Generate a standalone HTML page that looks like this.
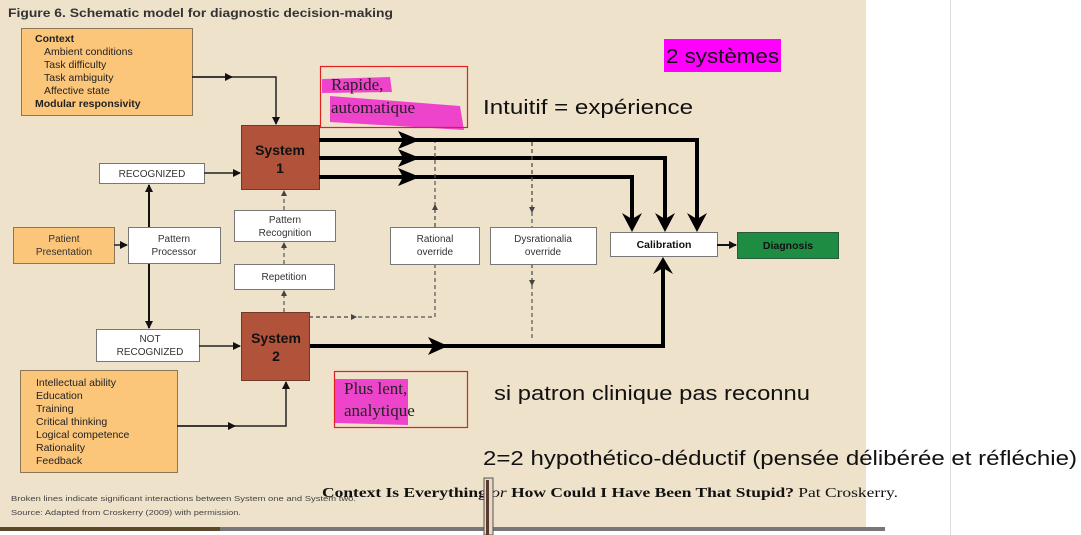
<!DOCTYPE html>
<html><head><meta charset="utf-8"><style>
html,body{margin:0;padding:0;background:#fff;width:1081px;height:535px;overflow:hidden}
svg{display:block}
.s{font-family:"Liberation Sans",sans-serif}
</style></head><body>
<svg width="1081" height="535" viewBox="0 0 1081 535" xmlns="http://www.w3.org/2000/svg" class="s">
<defs>
<marker id="a" markerWidth="8" markerHeight="8" refX="7" refY="4" orient="auto" markerUnits="userSpaceOnUse"><path d="M0,0 L8,4 L0,8 Z" fill="#111"/></marker>
<marker id="ad" markerWidth="6" markerHeight="6" refX="5" refY="3" orient="auto" markerUnits="userSpaceOnUse"><path d="M0,0 L6,3 L0,6 Z" fill="#444"/></marker>
</defs>
<rect x="0" y="0" width="866" height="528" fill="#efe2cb"/>
<rect x="0" y="527" width="885" height="4" fill="#777"/>
<rect x="0" y="527" width="220" height="4" fill="#5a4a2a"/>
<line x1="950.5" y1="0" x2="950.5" y2="535" stroke="#ddd"/>
<text x="8" y="17" font-size="12" font-weight="bold" fill="#333" textLength="385" lengthAdjust="spacingAndGlyphs">Figure 6. Schematic model for diagnostic decision-making</text>

<rect x="21.5" y="28.5" width="171" height="87" fill="#fbc57a" stroke="#8a7658"/>
<g font-size="10.5" fill="#222"><text x="35" y="42" font-weight="bold">Context</text>
<text x="44" y="55">Ambient conditions</text><text x="44" y="68">Task difficulty</text><text x="44" y="81">Task ambiguity</text><text x="44" y="94">Affective state</text>
<text x="35" y="107" font-weight="bold">Modular responsivity</text></g>
<polyline points="192,77 276,77 276,124" fill="none" stroke="#222" stroke-width="1.5" marker-end="url(#a)"/>
<line x1="192" y1="77" x2="232" y2="77" stroke="#222" stroke-width="1.5" marker-end="url(#a)"/>

<rect x="241.5" y="125.5" width="78" height="64" fill="#b0533a" stroke="#6e3a2a"/>
<text x="280" y="155" font-size="14" font-weight="bold" text-anchor="middle" fill="#111">System</text>
<text x="280" y="173" font-size="14" font-weight="bold" text-anchor="middle" fill="#111">1</text>

<g fill="none" stroke="#000" stroke-width="4">
<polyline points="319,140 697,140 697,222"/>
<polyline points="319,158 665,158 665,222"/>
<polyline points="319,177 632,177 632,222"/>
<polyline points="309,346 663,346 663,266"/>
</g>
<g fill="#000">
<path d="M398,131 L420,140 L398,149 L403,140Z"/><path d="M398,149 L420,158 L398,167 L403,158Z"/><path d="M398,168 L420,177 L398,186 L403,177Z"/>
<path d="M687,213 L697,232 L707,213 L697,219Z"/><path d="M655,213 L665,232 L675,213 L665,219Z"/><path d="M622,213 L632,232 L642,213 L632,219Z"/>
<path d="M428,337 L448,346 L428,355 L433,346Z"/><path d="M653,274 L663,257 L673,274 L663,268Z"/>
</g>

<rect x="99.5" y="163.5" width="105" height="20" fill="#fff" stroke="#777"/>
<text x="152" y="177" font-size="10" text-anchor="middle" fill="#333">RECOGNIZED</text>
<line x1="204" y1="173" x2="240" y2="173" stroke="#222" stroke-width="1.5" marker-end="url(#a)"/>

<rect x="234.5" y="210.5" width="101" height="31" fill="#fff" stroke="#777"/>
<text x="285" y="223" font-size="10" text-anchor="middle" fill="#333">Pattern</text>
<text x="285" y="236" font-size="10" text-anchor="middle" fill="#333">Recognition</text>
<rect x="234.5" y="264.5" width="100" height="25" fill="#fff" stroke="#777"/>
<text x="284" y="280" font-size="10" text-anchor="middle" fill="#333">Repetition</text>
<g stroke="#555" stroke-dasharray="4,3" fill="none" stroke-width="1.2">
<line x1="284" y1="210" x2="284" y2="191" marker-end="url(#ad)"/>
<line x1="284" y1="264" x2="284" y2="243" marker-end="url(#ad)"/>
<line x1="284" y1="312" x2="284" y2="291" marker-end="url(#ad)"/>
<polyline points="309,317 435,317 435,265"/>
<line x1="309" y1="317" x2="356" y2="317" marker-end="url(#ad)"/>
<line x1="435" y1="227" x2="435" y2="142"/>
<line x1="435" y1="227" x2="435" y2="205" marker-end="url(#ad)"/>
<line x1="532" y1="142" x2="532" y2="227"/>
<line x1="532" y1="142" x2="532" y2="212" marker-end="url(#ad)"/>
<line x1="532" y1="264" x2="532" y2="341"/>
<line x1="532" y1="264" x2="532" y2="285" marker-end="url(#ad)"/>
</g>

<rect x="13.5" y="227.5" width="101" height="36" fill="#fbc57a" stroke="#8a7658"/>
<text x="64" y="242" font-size="10" text-anchor="middle" fill="#333">Patient</text>
<text x="64" y="255" font-size="10" text-anchor="middle" fill="#333">Presentation</text>
<line x1="114" y1="245" x2="127" y2="245" stroke="#222" stroke-width="1.5" marker-end="url(#a)"/>
<rect x="128.5" y="227.5" width="92" height="36" fill="#fff" stroke="#777"/>
<text x="174" y="242" font-size="10" text-anchor="middle" fill="#333">Pattern</text>
<text x="174" y="255" font-size="10" text-anchor="middle" fill="#333">Processor</text>
<line x1="149" y1="227" x2="149" y2="185" stroke="#111" stroke-width="2" marker-end="url(#a)"/>
<line x1="149" y1="264" x2="149" y2="328" stroke="#111" stroke-width="2" marker-end="url(#a)"/>

<rect x="96.5" y="329.5" width="103" height="32" fill="#fff" stroke="#777"/>
<text x="150" y="342" font-size="10" text-anchor="middle" fill="#333">NOT</text>
<text x="150" y="355" font-size="10" text-anchor="middle" fill="#333">RECOGNIZED</text>
<line x1="199" y1="346" x2="240" y2="346" stroke="#222" stroke-width="1.5" marker-end="url(#a)"/>

<rect x="241.5" y="312.5" width="68" height="68" fill="#b0533a" stroke="#6e3a2a"/>
<text x="276" y="343" font-size="14" font-weight="bold" text-anchor="middle" fill="#111">System</text>
<text x="276" y="361" font-size="14" font-weight="bold" text-anchor="middle" fill="#111">2</text>

<rect x="390.5" y="227.5" width="89" height="37" fill="#fff" stroke="#777"/>
<text x="435" y="242" font-size="10" text-anchor="middle" fill="#333">Rational</text>
<text x="435" y="255" font-size="10" text-anchor="middle" fill="#333">override</text>
<rect x="490.5" y="227.5" width="106" height="37" fill="#fff" stroke="#777"/>
<text x="543" y="242" font-size="10" text-anchor="middle" fill="#333">Dysrationalia</text>
<text x="543" y="255" font-size="10" text-anchor="middle" fill="#333">override</text>

<rect x="610.5" y="232.5" width="107" height="24" fill="#fff" stroke="#777"/>
<text x="664" y="248" font-size="10.5" font-weight="bold" text-anchor="middle" fill="#111">Calibration</text>
<line x1="717" y1="245" x2="736" y2="245" stroke="#111" stroke-width="2" marker-end="url(#a)"/>
<rect x="737.5" y="232.5" width="101" height="26" fill="#1f8c44" stroke="#2a5a3a"/>
<text x="788" y="249" font-size="10.5" font-weight="bold" text-anchor="middle" fill="#111">Diagnosis</text>

<rect x="20.5" y="370.5" width="157" height="102" fill="#fbc57a" stroke="#8a7658"/>
<g font-size="10.5" fill="#222">
<text x="36" y="386">Intellectual ability</text><text x="36" y="399">Education</text><text x="36" y="412">Training</text><text x="36" y="425">Critical thinking</text><text x="36" y="438">Logical competence</text><text x="36" y="451">Rationality</text><text x="36" y="464">Feedback</text></g>
<polyline points="177,426 286,426 286,382" fill="none" stroke="#222" stroke-width="1.5" marker-end="url(#a)"/>
<line x1="177" y1="426" x2="235" y2="426" stroke="#222" stroke-width="1.5" marker-end="url(#a)"/>

<path d="M322,79 L390,77 L392,92 L322,93Z" fill="#ee44cc"/>
<path d="M330,96 L460,106 L464,130 L330,122Z" fill="#ee44cc"/>
<rect x="320.5" y="66.5" width="147" height="61" fill="none" stroke="#e02020" stroke-width="1.2"/>
<text x="331" y="90" font-family="Liberation Serif,serif" font-size="17" fill="#222">Rapide,</text>
<text x="331" y="113" font-family="Liberation Serif,serif" font-size="17" fill="#222">automatique</text>
<text x="483" y="114" font-size="20" fill="#111" textLength="210" lengthAdjust="spacingAndGlyphs">Intuitif = expérience</text>
<rect x="664" y="39" width="117" height="33" fill="#ff00ff"/>
<text x="666" y="63" font-size="20" fill="#111" textLength="113" lengthAdjust="spacingAndGlyphs">2 systèmes</text>

<path d="M335,379 L408,379 L408,425 L335,423Z" fill="#ee44cc"/>
<rect x="334.5" y="371.5" width="133" height="56" fill="none" stroke="#e02020" stroke-width="1.2"/>
<text x="344" y="394" font-family="Liberation Serif,serif" font-size="17" fill="#222">Plus lent,</text>
<text x="344" y="416" font-family="Liberation Serif,serif" font-size="17" fill="#222">analytique</text>
<text x="494" y="400" font-size="20" fill="#111" textLength="316" lengthAdjust="spacingAndGlyphs">si patron clinique pas reconnu</text>
<text x="483" y="465" font-size="20" fill="#111" textLength="594" lengthAdjust="spacingAndGlyphs">2=2 hypothético-déductif (pensée délibérée et réfléchie)</text>

<text x="11" y="501" font-size="7.5" fill="#444" textLength="345" lengthAdjust="spacingAndGlyphs">Broken lines indicate significant interactions between System one and System two.</text>
<text x="11" y="515" font-size="7.5" fill="#444" textLength="230" lengthAdjust="spacingAndGlyphs">Source: Adapted from Croskerry (2009) with permission.</text>
<text x="322" y="497" font-family="Liberation Serif,serif" font-size="14" fill="#111" textLength="576" lengthAdjust="spacingAndGlyphs"><tspan font-weight="bold">Context Is Everything </tspan><tspan font-style="italic">or</tspan><tspan font-weight="bold"> How Could I Have Been That Stupid?</tspan>  Pat Croskerry.</text>
<rect x="484" y="478" width="9" height="57" fill="#e8d8c8" stroke="#555"/>
<rect x="486" y="480" width="3" height="55" fill="#5a3a2a"/>
</svg>
</body></html>
